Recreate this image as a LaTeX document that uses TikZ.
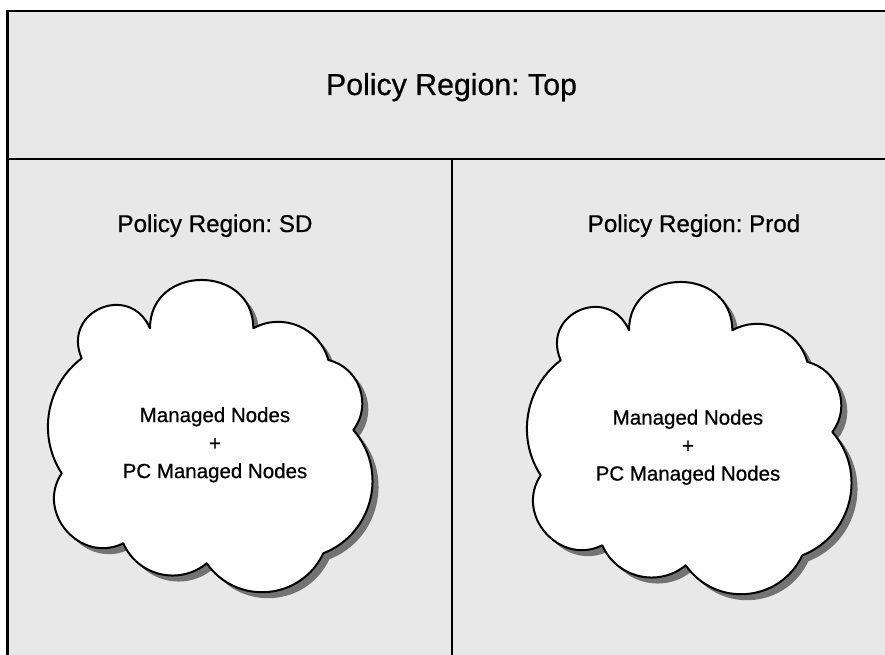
\documentclass[tikz,border=0pt]{standalone}
\usepackage{fontspec}
\setmainfont{Liberation Sans}[FakeBold=0.6]
\usetikzlibrary{calc}

\tikzset{
  % one bump of the cloud: circular-ish arc between two notches
  bump/.style 2 args={bend left=#1, looseness=#2},
  pics/cloudoutline/.style={code={
    \path[pic actions]
      (81.7,296.7)
      to[bump={90}{1.75}] (150,326.7)
      to[bump={90}{1.60}] (253.3,326.7)
      to[bump={52}{1.05}] (328.3,295)
      to[bump={57}{1.10}] (353.3,225)
      to[bump={55}{1.08}] (323.3,101.7)
      to[bump={60}{1.14}] (206.7,91.7)
      to[bump={53}{1.06}] (123.3,111.7)
      to[bump={75}{1.30}] (61.7,181.7)
      to[bump={43}{0.98}] cycle;
  }},
  cloudshadow/.style={fill=black!55},
  cloudface/.style={fill=white, draw=black, line width=2pt, line join=round},
  frameline/.style={draw=black, line width=2.2pt},
  divider/.style={draw=black, line width=1.6pt},
  titletext/.style={font=\fontsize{30.3}{34}\selectfont\frenchspacing, inner sep=0pt, anchor=base},
  regiontext/.style={font=\fontsize{24.2}{28}\selectfont\frenchspacing, inner sep=0pt, anchor=base},
  cloudtext/.style={font=\fontsize{20.5}{28}\selectfont, align=center, inner sep=0pt},
}

\begin{document}
\begin{tikzpicture}[x=1pt, y=1pt]
  \useasboundingbox (0,0) rectangle (885,655);
  \clip (0,0) rectangle (885,655);

  % stippled background of the policy regions
  \fill[black!9] (7.5,644) rectangle (890,-5);

  % outer frame (left and top edges)
  \path[frameline] (7.5,-5) -- (7.5,644) -- (890,644);

  % split into the top region and the two sub-regions
  \coordinate (divL) at (7.5,496);
  \coordinate (divR) at (890,496);
  \coordinate (midTop) at (452,497);
  \coordinate (midBot) at (452,-5);
  \path[divider] (divL) -- (divR);
  \path[frameline, line width=2pt] (midTop) -- (midBot);

  % region labels
  \node[titletext] (top) at (451.5,560) {Policy Region: Top};
  \node[regiontext] (sd) at (215,423) {Policy Region: SD};
  \node[regiontext] (prod) at (694,423) {Policy Region: Prod};

  % left cloud
  \pic[cloudshadow] at (6,-6) {cloudoutline};
  \pic[cloudface] at (0,0) {cloudoutline};
  \node[cloudtext] (sdnodes) at (215,210.2)
    {Managed Nodes\\+\\PC Managed Nodes};

  % right cloud
  \pic[cloudshadow] at (485,-8) {cloudoutline};
  \pic[cloudface] at (479,-2) {cloudoutline};
  \node[cloudtext] (prodnodes) at (688,207.7)
    {Managed Nodes\\+\\PC Managed Nodes};
\end{tikzpicture}
\end{document}
